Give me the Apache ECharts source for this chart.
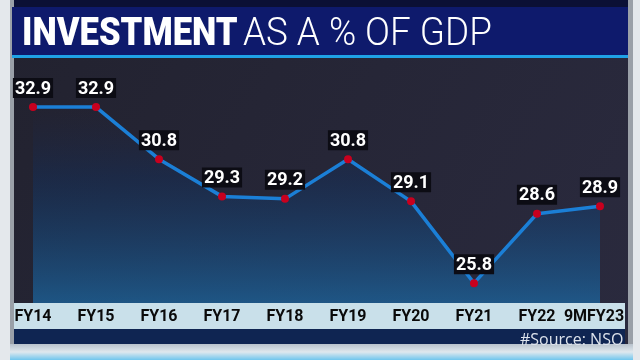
<!DOCTYPE html>
<html><head><meta charset="utf-8">
<script src="https://cdn.jsdelivr.net/npm/echarts@6/dist/echarts.min.js"></script>
<style>html,body{margin:0;padding:0;background:#e4e8ec;}#c{width:640px;height:360px;}</style>
</head><body><div id="c"></div>
<script>
const categories = ['FY14','FY15','FY16','FY17','FY18','FY19','FY20','FY21','FY22','9MFY23'];
const investmentPct = [32.9, 32.9, 30.8, 29.3, 29.2, 30.8, 29.1, 25.8, 28.6, 28.9];
const titleBold = 'INVESTMENT';
const titleLight = 'AS A % OF GDP';
const sourceText = '#Source: NSO';

const chart = echarts.init(document.getElementById('c'), null, {renderer:'canvas'});
chart.setOption({
  backgroundColor: '#e4e8ec',
  animation: false,
  graphic: [
    {type:'rect', shape:{x:10,y:0,width:623,height:350}, style:{fill:'#9aa0a8'}, z:-10},
    {type:'rect', shape:{x:14,y:0,width:614,height:345},
      style:{fill:{type:'linear',x:0,y:0,x2:1,y2:1,colorStops:[{offset:0,color:'#22222f'},{offset:0.5,color:'#262637'},{offset:1,color:'#2a2a3e'}]}}, z:-9},
    {type:'rect', shape:{x:14,y:0,width:614,height:7}, style:{fill:'#0b1035'}, z:-8},
    {type:'rect', shape:{x:12,y:7,width:616,height:48}, style:{fill:'#0e1a6c'}, z:-8},
    {type:'rect', shape:{x:12,y:55,width:616,height:3}, style:{fill:'#1fa2e6'}, z:-8},
    {type:'rect', shape:{x:14,y:303,width:611,height:26}, style:{fill:'#c9e0ea'}, z:-5},
    {type:'rect', shape:{x:14,y:329,width:611,height:15}, style:{fill:'#0f2552'}, z:-5},
    {type:'rect', shape:{x:10,y:344,width:623,height:16},
      style:{fill:{type:'linear',x:0,y:0,x2:0,y2:1,colorStops:[{offset:0,color:'#b8c2cc'},{offset:0.5,color:'#dfe8ee'},{offset:1,color:'#6fc6ee'}]}}, z:-5},
    {type:'text', x:22, y:35, scaleX:0.91, style:{text:titleBold, fill:'#ffffff', font:'900 38px Roboto, "Open Sans", sans-serif', textVerticalAlign:'middle'}, z:5},
    {type:'text', x:243, y:35, scaleX:0.97, style:{text:titleLight, fill:'#ffffff', font:'300 38px Roboto, "Open Sans", sans-serif', textVerticalAlign:'middle'}, z:5},
    {type:'text', x:520, y:340, style:{text:sourceText, fill:'#dde3ec', font:'400 16px "Open Sans", Roboto, sans-serif', textVerticalAlign:'middle'}, z:5}
  ],
  grid: {left:33, right:40, top:60, bottom:57},
  xAxis: {
    type:'category', data: categories, boundaryGap:false,
    axisLine:{show:false}, axisTick:{show:false}, splitLine:{show:false},
    axisLabel:{color:'#0a0a0a', fontFamily:'Roboto, sans-serif', fontWeight:'bold', fontSize:16, margin:6, interval:0,
      formatter: function(v, i){ return i === categories.length - 1 ? '{last|' + v + '}' : v; },
      rich:{last:{color:'#0a0a0a', fontFamily:'Roboto, sans-serif', fontWeight:'bold', fontSize:16, padding:[0,12,0,0]}}}
  },
  yAxis: {type:'value', min:25, max:34.8, show:false, splitLine:{show:false}},
  series: [{
    type:'line', data: investmentPct,
    lineStyle:{color:'#1b7fd6', width:3.5},
    itemStyle:{color:'#c8001e'},
    symbol:'circle', symbolSize:8, showAllSymbol:true,
    areaStyle:{color:{type:'linear',x:0,y:0,x2:0,y2:1,colorStops:[{offset:0,color:'rgba(24,40,80,0)'},{offset:0.35,color:'rgba(16,50,100,0.55)'},{offset:1,color:'#1b6aa6'}]}},
    label:{show:true, position:'top', distance:5, color:'#ffffff', fontWeight:'bold', fontSize:18,
      fontFamily:'Roboto, "Open Sans", sans-serif', backgroundColor:'#0c0c14', padding:[2,2,0,2]},
    z:3
  }]
});
</script></body></html>
